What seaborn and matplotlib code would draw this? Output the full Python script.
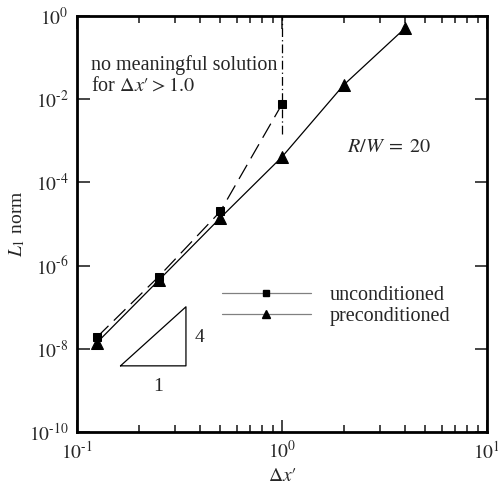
import matplotlib
matplotlib.use("Agg")
import matplotlib.pyplot as plt
import seaborn as sns
import pandas as pd
import numpy as np
from matplotlib.lines import Line2D
from matplotlib.ticker import LogLocator, FixedLocator, NullLocator

# data
dx_uncond = [0.125, 0.25, 0.5, 1.0]
l1_uncond = [1.9e-8, 5.4e-7, 2.0e-5, 7.6e-3]
dx_precond = [0.125, 0.25, 0.5, 1.0, 2.0, 4.0]
l1_precond = [1.4e-8, 4.4e-7, 1.4e-5, 4.1e-4, 2.2e-2, 0.52]
limit_x = [1.0, 1.0]
limit_y = [1.45e-3, 1.0]
tri_x = [0.163, 0.34, 0.34, 0.163]
tri_y = [10**-8.41, 10**-8.41, 10**-6.99, 10**-8.41]
y_ticks = [1e-10, 1e-8, 1e-6, 1e-4, 1e-2, 1e0]
y_labels = ["$10^{\u2010 10}$", "$10^{\u20108}$", "$10^{\u20106}$", "$10^{\u20104}$", "$10^{\u20102}$", "$10^{0}$"]
y_labels[0] = "$10^{\u201010}$"
x_ticks = [0.1, 1, 10]
x_labels = ["$10^{\u20101}$", "$10^{0}$", "$10^{1}$"]

sns.set_style("ticks")
plt.rcParams["font.family"] = ["Liberation Serif", "DejaVu Serif"]
plt.rcParams["mathtext.fontset"] = "stix"

fig = plt.figure(figsize=(4.98, 4.90), dpi=100)
ax = fig.add_axes([77/498, 1-432/490, 410/498, 416/490])

df_u = pd.DataFrame({"x": dx_uncond, "y": l1_uncond})
df_p = pd.DataFrame({"x": dx_precond, "y": l1_precond})

sns.lineplot(data=df_u, x="x", y="y", ax=ax, color="black", lw=0.9,
             marker="s", markersize=6, markeredgecolor="black",
             dashes=False)
ax.lines[-1].set_dashes([13, 6])
sns.lineplot(data=df_p, x="x", y="y", ax=ax, color="black", lw=0.9,
             marker="^", markersize=8, markeredgecolor="black")

ax.plot(limit_x, limit_y, color="black", lw=0.9, linestyle=(0, (7, 2.5, 1, 2.5)))
ax.plot(tri_x, tri_y, color="black", lw=0.9)

ax.set_xscale("log")
ax.set_yscale("log")
ax.set_xlim(0.1, 10)
ax.set_ylim(1e-10, 1)

ax.xaxis.set_major_locator(FixedLocator(x_ticks))
ax.set_xticklabels(x_labels)
ax.xaxis.set_minor_locator(LogLocator(base=10, subs=np.arange(2, 10)))
ax.yaxis.set_major_locator(FixedLocator(y_ticks))
ax.set_yticklabels(y_labels)
ax.yaxis.set_minor_locator(NullLocator())

ax.tick_params(which="both", direction="in", top=True, right=True,
               labelsize=14, width=1.2, pad=6)
ax.tick_params(which="major", length=9)
ax.tick_params(which="minor", length=5)
for s in ax.spines.values():
    s.set_linewidth(2)
    s.set_color("black")

ax.set_xlabel("$\\Delta x\\prime$", fontsize=14, labelpad=4)
ax.set_ylabel("$L_1$ norm", fontsize=14)
ax.yaxis.set_label_coords(-0.122, 0.5)

ax.text(0.117, 10**-1.43, "no meaningful solution\nfor $\\Delta x\\prime > 1.0$",
        fontsize=14.5, va="center", ha="left", linespacing=1.15)
ax.text(2.07, 10**-3.15, "$R/W\\;=\\;20$", fontsize=14.5, ha="left", va="center")
ax.text(0.375, 10**-7.72, "4", fontsize=14, ha="left", va="center")
ax.text(0.248, 10**-8.9, "1", fontsize=14, ha="center", va="center")

handles = [
    Line2D([], [], color="gray", lw=0.9, marker="s", markersize=5,
           markerfacecolor="black", markeredgecolor="black"),
    Line2D([], [], color="gray", lw=0.9, marker="^", markersize=6,
           markerfacecolor="black", markeredgecolor="black"),
]
ax.legend(handles, ["unconditioned", "preconditioned"], loc="upper left",
          bbox_to_anchor=(0.354, 0.35), frameon=False, fontsize=14.5,
          handlelength=4.4, handletextpad=0.95, labelspacing=0.05,
          borderpad=0, borderaxespad=0)

fig.savefig("out.png", dpi=100)
